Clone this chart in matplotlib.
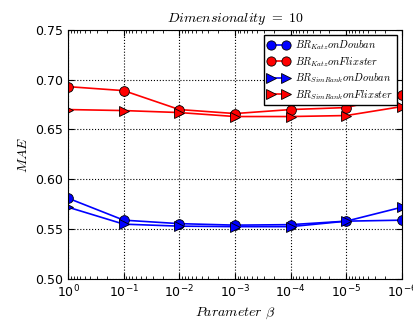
import numpy as np
import matplotlib
matplotlib.use('Agg')
import matplotlib.pyplot as plt
from matplotlib.ticker import FixedLocator, LogLocator, FuncFormatter

# ------------------------
# data
# ------------------------
beta = [1e0, 1e-1, 1e-2, 1e-3, 1e-4, 1e-5, 1e-6]
katz_douban = [0.581, 0.559, 0.5555, 0.554, 0.5545, 0.558, 0.559]
katz_flixster = [0.693, 0.689, 0.670, 0.666, 0.670, 0.672, 0.685]
simrank_douban = [0.572, 0.555, 0.553, 0.5525, 0.5525, 0.558, 0.572]
simrank_flixster = [0.670, 0.669, 0.667, 0.663, 0.663, 0.664, 0.673]
yticks = [0.50, 0.55, 0.60, 0.65, 0.70, 0.75]

plt.rcParams['mathtext.fontset'] = 'cm'
plt.rcParams['mathtext.default'] = 'it'
plt.rcParams['font.size'] = 9

fig = plt.figure(figsize=(4.13, 3.21), dpi=100)
ax = fig.add_axes([0.165, 0.131, 0.808, 0.776])

ax.plot(beta, katz_douban, 'b-', marker='o', ms=7, mec='k', mew=0.6, lw=1.2,
        label=r'$BR_{Katz} on Douban$')
ax.plot(beta, katz_flixster, 'r-', marker='o', ms=7, mec='k', mew=0.6, lw=1.2,
        label=r'$BR_{Katz} on Flixster$')
ax.plot(beta, simrank_douban, 'b-', marker='>', ms=7, mec='k', mew=0.6, lw=1.2,
        label=r'$BR_{SimRank} on Douban$')
ax.plot(beta, simrank_flixster, 'r-', marker='>', ms=7, mec='k', mew=0.6, lw=1.2,
        label=r'$BR_{SimRank} on Flixster$')

ax.set_xscale('log')
ax.set_xlim(1e0, 1e-6)
ax.set_ylim(0.50, 0.75)
ax.yaxis.set_major_locator(FixedLocator(yticks))
ax.yaxis.set_major_formatter(FuncFormatter(lambda v, p: '%.2f' % v))
ax.xaxis.set_major_locator(FixedLocator(beta))
ax.xaxis.set_major_formatter(FuncFormatter(
    lambda v, p: r'$\mathregular{10^{%d}}$' % int(round(np.log10(v)))))
ax.xaxis.set_minor_locator(LogLocator(base=10, subs=np.arange(2, 10)))

ax.tick_params(which='both', direction='in', top=True, right=True)
ax.tick_params(which='major', length=4)
ax.tick_params(which='minor', length=2)
ax.grid(True, which='major', linestyle=':', color='k', lw=0.8)

ax.set_title(r'$Dimensionality\ =\ 10$', fontsize=10)
ax.set_xlabel(r'$Parameter\ \beta$', fontsize=10)
ax.set_ylabel(r'$MAE$', fontsize=10)

leg = ax.legend(loc='upper right', fontsize=7.5, fancybox=False, framealpha=1,
                edgecolor='k', numpoints=2, handlelength=2.0, markerscale=0.95,
                borderaxespad=0.5, labelspacing=0.25, borderpad=0.35,
                handletextpad=0.6)
leg.get_frame().set_linewidth(1.0)

fig.savefig('out.png')
